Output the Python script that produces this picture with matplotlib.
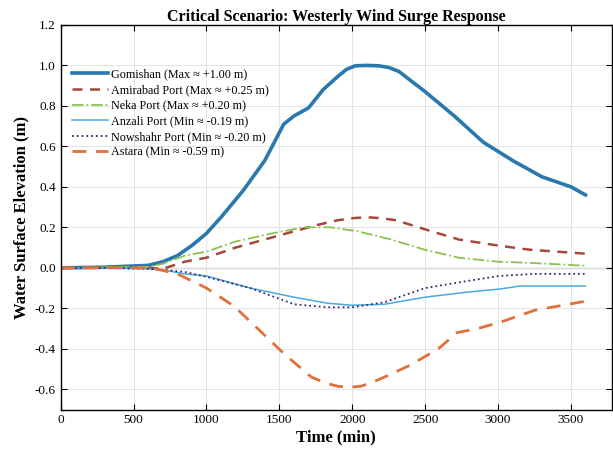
import numpy as np
import matplotlib.pyplot as plt

plt.rcParams['font.family'] = ['Liberation Serif', 'DejaVu Serif']

# time axis (min) and water level (m)
t_gom = [0, 300, 600, 700, 800, 900, 1000, 1100, 1250, 1400, 1530, 1600, 1700, 1800, 1900,
         1960, 2020, 2100, 2180, 2250, 2320, 2500, 2700, 2900, 3100, 3300, 3500, 3600]
gomishan = [0, 0.003, 0.012, 0.03, 0.06, 0.11, 0.17, 0.25, 0.38, 0.53, 0.71, 0.75, 0.79, 0.88, 0.945,
            0.98, 0.998, 1.0, 0.998, 0.99, 0.97, 0.87, 0.75, 0.62, 0.53, 0.45, 0.40, 0.36]

t_ami = [0, 300, 600, 700, 850, 1000, 1200, 1500, 1750, 1900, 2000, 2100, 2200, 2300, 2500, 2730, 3000, 3210, 3400, 3600]
amirabad = [0, 0.002, 0.0, -0.005, 0.03, 0.05, 0.10, 0.16, 0.21, 0.235, 0.245, 0.25, 0.245, 0.235, 0.19, 0.14, 0.11,
            0.09, 0.08, 0.07]

t_neka = [0, 300, 600, 700, 850, 1000, 1200, 1450, 1670, 1850, 2040, 2265, 2495, 2730, 3000, 3210, 3600]
neka = [0, 0.002, 0.005, 0.02, 0.06, 0.08, 0.13, 0.17, 0.20, 0.20, 0.18, 0.14, 0.09, 0.05, 0.03, 0.025, 0.01]

t_anz = [0, 300, 600, 700, 850, 1000, 1300, 1600, 1830, 2000, 2220, 2500, 2790, 3010, 3150, 3600]
anzali = [0, 0.0, -0.005, -0.01, -0.03, -0.04, -0.10, -0.145, -0.175, -0.185, -0.18, -0.145, -0.12, -0.105, -0.09, -0.09]

t_now = [0, 300, 600, 700, 850, 1000, 1300, 1600, 1830, 2000, 2220, 2500, 2790, 3010, 3250, 3600]
nowshahr = [0, 0.0, -0.005, -0.01, -0.02, -0.045, -0.10, -0.18, -0.195, -0.195, -0.17, -0.10, -0.065, -0.04, -0.03, -0.03]

t_ast = [0, 300, 620, 800, 1000, 1190, 1380, 1540, 1720, 1820, 1900, 1980, 2060, 2140, 2220, 2400, 2590, 2720, 2860,
         3010, 3250, 3600]
astara = [0, 0.0, 0.0, -0.03, -0.10, -0.19, -0.32, -0.43, -0.54, -0.57, -0.585, -0.59, -0.585, -0.565, -0.54, -0.48,
          -0.40, -0.32, -0.30, -0.27, -0.21, -0.165]

labels = ['Gomishan (Max \u2248 +1.00 m)', 'Amirabad Port (Max \u2248 +0.25 m)',
          'Neka Port (Max \u2248 +0.20 m)', 'Anzali Port (Min \u2248 -0.19 m)',
          'Nowshahr Port (Min \u2248 -0.20 m)', 'Astara (Min \u2248 -0.59 m)']

fig = plt.figure(figsize=(6.13, 4.53), dpi=100)
ax = fig.add_axes([0.099, 0.096, 0.899, 0.849])

ax.plot(t_gom, gomishan, color='#2a78ad', lw=2.6, label=labels[0])
ax.plot(t_ami, amirabad, color='#a5473a', lw=1.8, ls=(0, (4, 3)), label=labels[1])
ax.plot(t_neka, neka, color='#8cc152', lw=1.3, ls='-.', label=labels[2])
ax.plot(t_anz, anzali, color='#4aa8e0', lw=1.1, label=labels[3])
ax.plot(t_now, nowshahr, color='#3c2a6c', lw=1.3, ls=':', label=labels[4])
ax.plot(t_ast, astara, color='#e2703a', lw=2.0, ls=(0, (5, 3.5)), label=labels[5])

ax.axhline(0, color='#7a7a7a', lw=0.9, zorder=1.5)

ax.set_xlim(0, 3780)
ax.set_ylim(-0.7, 1.2)
ax.set_xticks(np.arange(0, 3501, 500))
ax.set_yticks(np.arange(-0.6, 1.21, 0.2))
ax.yaxis.set_major_formatter(plt.FormatStrFormatter('%.1f'))
ax.grid(True, color='#e4e4e4', lw=0.7)
ax.tick_params(direction='in', top=True, right=True, labelsize=9.5, length=4)
for s in ax.spines.values():
    s.set_linewidth(1.0)

ax.set_title('Critical Scenario: Westerly Wind Surge Response', fontsize=11.5, fontweight='bold', pad=3)
ax.set_xlabel('Time (min)', fontsize=12, fontweight='bold', labelpad=2)
ax.set_ylabel('Water Surface Elevation (m)', fontsize=12, fontweight='bold', labelpad=4)

ax.legend(loc='upper left', bbox_to_anchor=(0.0, 0.915), fontsize=8.7, frameon=False,
          handlelength=3.0, handletextpad=0.3, labelspacing=0.3)

fig.savefig('out.png', dpi=100)
